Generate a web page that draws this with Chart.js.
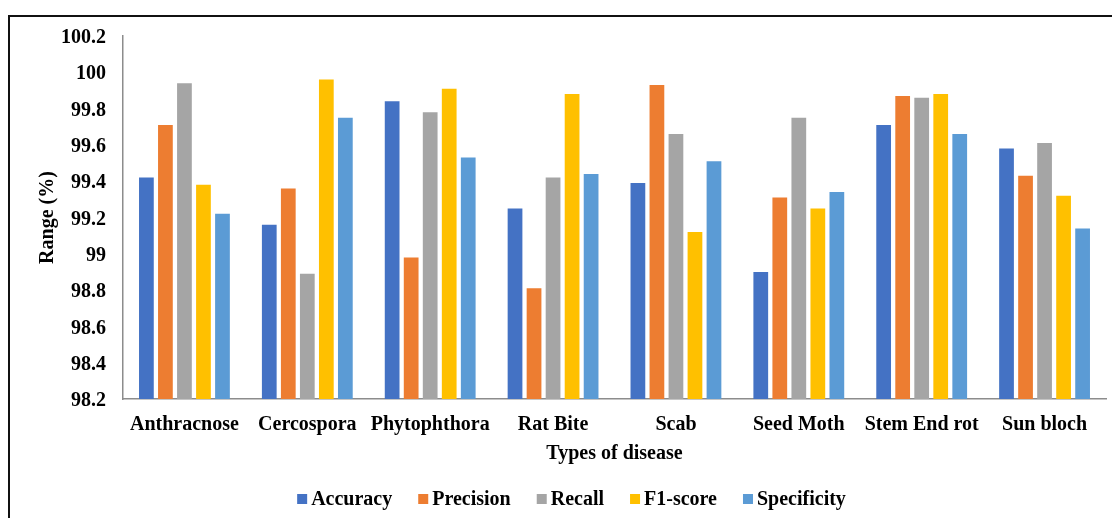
<!DOCTYPE html>
<html>
<head>
<meta charset="utf-8">
<script src="https://cdn.jsdelivr.net/npm/chart.js@4/dist/chart.umd.min.js"></script>
<style>
  html, body { margin: 0; padding: 0; background: #ffffff; }
  #wrap { width: 1112px; height: 518px; position: relative; }
</style>
</head>
<body>
<div id="wrap"><canvas id="chart"></canvas></div>
<script>
// Disease classes on the x axis
const categories = ['Anthracnose', 'Cercospora', 'Phytophthora', 'Rat Bite', 'Scab', 'Seed Moth', 'Stem End rot', 'Sun bloch'];

// Metric values (%) per disease class
const accuracy    = [99.42, 99.16, 99.84, 99.25, 99.39, 98.90, 99.71, 99.58];
const precision   = [99.71, 99.36, 98.98, 98.81, 99.93, 99.31, 99.87, 99.43];
const recall      = [99.94, 98.89, 99.78, 99.42, 99.66, 99.75, 99.86, 99.61];
const f1score     = [99.38, 99.96, 99.91, 99.88, 99.12, 99.25, 99.88, 99.32];
const specificity = [99.22, 99.75, 99.53, 99.44, 99.51, 99.34, 99.66, 99.14];

// Value axis tick positions
const yTicks = [98.2, 98.4, 98.6, 98.8, 99.0, 99.2, 99.4, 99.6, 99.8, 100.0, 100.2];

const FONT_FAMILY = '"Liberation Serif", "Times New Roman", serif';
const FONT = { family: FONT_FAMILY, size: 20, weight: 'bold' };
const AXIS_GRAY = '#8c8c8c';

// White page plus the dark frame lines along the top and left edges
const framePlugin = {
  id: 'frame',
  beforeDraw(chart) {
    const ctx = chart.ctx;
    ctx.save();
    ctx.fillStyle = '#ffffff';
    ctx.fillRect(0, 0, chart.width, chart.height);
    ctx.fillStyle = '#111111';
    ctx.fillRect(8, 15, chart.width - 8, 2);
    ctx.fillRect(8, 15, 2, chart.height - 15);
    ctx.restore();
  }
};

// Legend row under the axis title: small square swatch followed by the series name
const legendPlugin = {
  id: 'bottomLegend',
  afterDraw(chart) {
    const ctx = chart.ctx;
    ctx.save();
    ctx.font = `bold ${FONT.size}px ${FONT_FAMILY}`;
    ctx.textBaseline = 'middle';
    ctx.textAlign = 'left';
    const box = 10, gap = 4, spacing = 26;
    const items = chart.data.datasets.map(d => ({
      label: d.label,
      color: d.backgroundColor,
      w: ctx.measureText(d.label).width
    }));
    const total = items.reduce((s, it) => s + box + gap + it.w, 0) + spacing * (items.length - 1);
    let x = 571.5 - total / 2;
    const y = 499;
    items.forEach(it => {
      ctx.fillStyle = it.color;
      ctx.fillRect(x, y - box / 2, box, box);
      ctx.fillStyle = '#000000';
      ctx.fillText(it.label, x + box + gap, y + 1);
      x += box + gap + it.w + spacing;
    });
    ctx.restore();
  }
};

const mkSet = (label, data, color) => ({
  label, data,
  backgroundColor: color,
  borderWidth: 0,
  categoryPercentage: 0.774,
  barPercentage: 0.775
});

new Chart(document.getElementById('chart'), {
  type: 'bar',
  data: {
    labels: categories,
    datasets: [
      mkSet('Accuracy', accuracy, '#4472C4'),
      mkSet('Precision', precision, '#ED7D31'),
      mkSet('Recall', recall, '#A5A5A5'),
      mkSet('F1-score', f1score, '#FFC000'),
      mkSet('Specificity', specificity, '#5B9BD5')
    ]
  },
  options: {
    responsive: true,
    maintainAspectRatio: false,
    animation: false,
    layout: { padding: { left: 36, right: 6, top: 36, bottom: 52 } },
    plugins: {
      legend: { display: false },
      tooltip: { enabled: false },
      title: { display: false }
    },
    scales: {
      x: {
        type: 'category',
        grid: { display: false, drawTicks: false },
        border: { display: true, color: AXIS_GRAY, width: 1.5 },
        ticks: { color: '#000000', font: FONT, padding: 14, maxRotation: 0, autoSkip: false },
        title: { display: true, text: 'Types of disease', color: '#000000', font: FONT, padding: { top: 0, bottom: 0 } },
        afterFit(scale) { scale.height = 67; }
      },
      y: {
        min: 98.2,
        max: 100.2,
        grid: { display: false, drawTicks: false },
        border: { display: true, color: AXIS_GRAY, width: 1.5 },
        ticks: {
          color: '#000000',
          font: FONT,
          padding: 17,
          labelOffset: 2,
          callback: v => String(+Number(v).toFixed(1))
        },
        afterBuildTicks(scale) { scale.ticks = yTicks.map(v => ({ value: v })); },
        title: { display: true, text: 'Range (%)', color: '#000000', font: FONT, padding: { top: 0, bottom: 0 } },
        afterFit(scale) { scale.width = 87; }
      }
    }
  },
  plugins: [framePlugin, legendPlugin]
});
</script>
</body>
</html>
